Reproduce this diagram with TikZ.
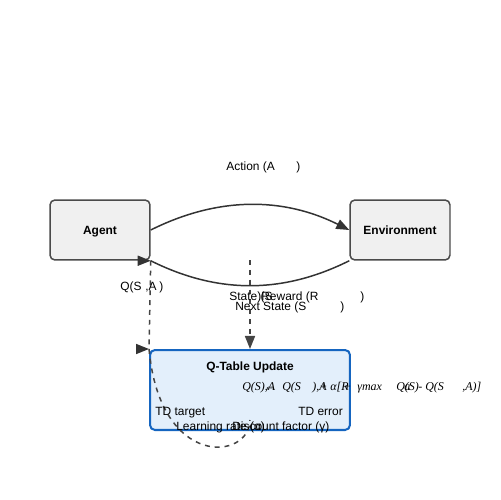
\documentclass[tikz,border=0pt]{standalone}
\usepackage{fontspec}
\setmainfont{Liberation Sans}
\newfontfamily\fmlfont{Liberation Serif}
\usetikzlibrary{arrows.meta}

\definecolor{boxgray}{HTML}{F0F0F0}
\definecolor{edgegray}{HTML}{4A4A4A}
\definecolor{linegray}{HTML}{333333}
\definecolor{dashgray}{HTML}{444444}
\definecolor{qfill}{HTML}{E3EFFB}
\definecolor{qedge}{HTML}{1565C0}

\newcommand*\txtsize{\fontsize{6.8}{8.2}\selectfont}

\tikzset{
    block/.style={
        draw=edgegray,
        line width=0.85pt,
        fill=boxgray,
        rounded corners=2.8pt,
        minimum width=2cm,
        minimum height=1.2cm,
        inner sep=0pt,
        text depth=0pt,
        font=\txtsize\bfseries
    },
    qblock/.style={
        block,
        draw=qedge,
        line width=1.15pt,
        fill=qfill,
        minimum width=4cm,
        minimum height=1.6cm
    },
    lbl/.style={anchor=base west, inner sep=0pt, font=\txtsize},
    fml/.style={anchor=base west, inner sep=0pt, font=\txtsize\fmlfont\itshape},
    flow/.style={draw=linegray, line width=0.85pt},
    dflow/.style={draw=dashgray, line width=0.85pt, dash pattern=on 2.8pt off 2.8pt},
    headtip/.style={-{Triangle[length=7.4pt,width=5.7pt]}}
}

\begin{document}
\begin{tikzpicture}[x=0.02cm,y=-0.02cm]

    \useasboundingbox (0,0) rectangle (500,500);

    % The three boxes.
    \node[block] (agent) at (100,230) {Agent};
    \node[block] (env) at (400,230) {Environment};
    \node[qblock] (qtab) at (250,390) {};

    % Action goes over the top, reward comes back underneath.
    \draw[flow, headtip] (agent.east) .. controls +(66.7,-33.3) and +(-66.7,-33.3) .. (env.west);
    \draw[flow] (env.south west) .. controls +(-66.7,33.3) and +(66.7,33.3) .. (agent.south east);
    \draw[flow, headtip] ([xshift=-1pt]agent.south east) -- (agent.south east);

    % Dashed feeds into the update.
    \coordinate (mid) at (250,260);
    \coordinate (qloop) at (250,420);
    \draw[dflow, headtip] (mid) -- (qtab.north);
    \draw[dflow] (agent.south east) -- (qtab.north west);
    \draw[flow, headtip] ([xshift=-1pt]qtab.north west) -- (qtab.north west);
    \draw[dflow] (qtab.north west) .. controls (160,470) and (250,460) .. (qloop);

    % Labels on the connectors.
    \node[lbl] (act) at (226,170) {Action (A};
    \node[lbl] (actr) at (296,170) {)};
    \node[lbl] (qsa) at (120,290) {Q(S};
    \node[lbl] (qsb) at (145,290) {,A};
    \node[lbl] (qsc) at (159,290) {)};
    \node[lbl] (st) at (229,300) {State (S};
    \node[lbl] (str) at (257,300) {)};
    \node[lbl] (rw) at (261,300) {Reward (R};
    \node[lbl] (rwr) at (360,300) {)};
    \node[lbl] (nst) at (235,310) {Next State (S};
    \node[lbl] (nstr) at (340,310) {)};

    % Inside the update box.
    \node[anchor=base, inner sep=0pt, font=\txtsize\bfseries] (qtitle) at (250,370) {Q-Table Update};
    \foreach \i/\fx/\ftxt in {1/242/{Q(S),A}, 2/264/{\upshape ←}, 3/282/{Q(S}, 4/312/{),A}, 5/319/{+},
                              6/330/{α[R}, 7/343/{+}, 8/357/{γmax}, 9/396/{Q(S)}, 10/404/{a},
                              11/418/{- Q(S}, 12/462/{,A)]}}
        \node[fml] (part\i) at (\fx,390) {\ftxt};
    \node[lbl] (tdt) at (155,415) {TD target};
    \node[lbl] (tde) at (298,415) {TD error};
    \node[lbl] (lr) at (176,430) {Learning rate (α)};
    \node[lbl] (df) at (232,430) {Discount factor (γ)};

\end{tikzpicture}
\end{document}
